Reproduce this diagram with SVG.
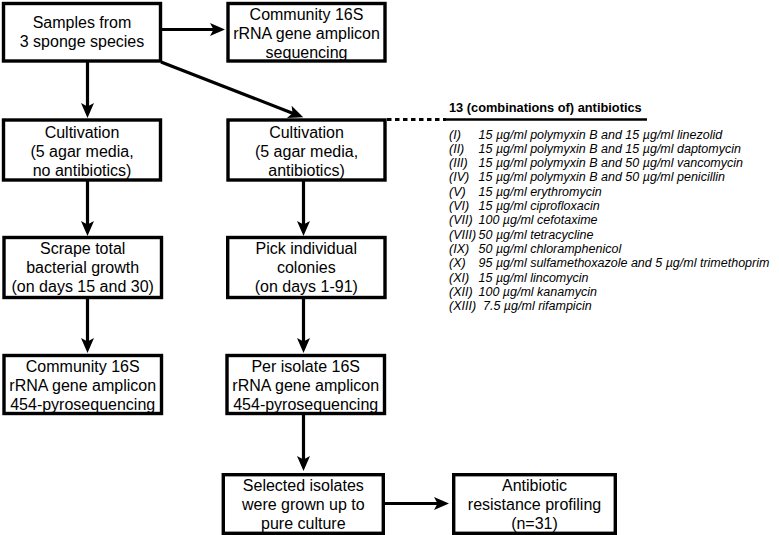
<svg xmlns="http://www.w3.org/2000/svg" width="779" height="535" viewBox="0 0 779 535">
<defs>
<marker id="arr" markerUnits="userSpaceOnUse" viewBox="-8 -7 17 14" markerWidth="17" markerHeight="14" refX="0" refY="0" orient="auto">
<path d="M8,0 L-7,-6.5 L-3.5,0 L-7,6.5 Z" fill="#000"/>
</marker>
<style>
.box{fill:#fff;stroke:#000;stroke-width:3.4}
.t{font-family:"Liberation Sans",Arial,sans-serif;font-size:16px;fill:#000;text-anchor:middle}
.c{fill:none;stroke:#000;stroke-width:3.2}
.h{font-family:"Liberation Sans",Arial,sans-serif;font-size:12.8px;font-weight:bold;fill:#000}
.l{font-family:"Liberation Sans",Arial,sans-serif;font-size:12.5px;font-style:italic;fill:#000}
</style>
</defs>
<rect width="779" height="535" fill="#fff"/>
<g id="connectors">
<line class="c" x1="161" y1="29.5" x2="217" y2="29.5" marker-end="url(#arr)"/>
<line class="c" x1="87.5" y1="61" x2="87.5" y2="110" marker-end="url(#arr)"/>
<line class="c" x1="161" y1="62" x2="295.8" y2="114.4" marker-end="url(#arr)"/>
<line class="c" x1="87.5" y1="180" x2="87.5" y2="228" marker-end="url(#arr)"/>
<line class="c" x1="303.5" y1="180" x2="303.5" y2="228" marker-end="url(#arr)"/>
<line class="c" x1="87.5" y1="297.5" x2="87.5" y2="345" marker-end="url(#arr)"/>
<line class="c" x1="303.5" y1="297.5" x2="303.5" y2="345" marker-end="url(#arr)"/>
<line class="c" x1="303.5" y1="413.5" x2="303.5" y2="463" marker-end="url(#arr)"/>
<line class="c" x1="384" y1="503.5" x2="441" y2="503.5" marker-end="url(#arr)"/>
<line class="c" x1="387" y1="119.5" x2="446" y2="119.5" stroke-dasharray="4.5 3.5"/>
<line class="c" x1="446" y1="119.5" x2="647" y2="119.5" style="stroke-width:2.6"/>
</g>
<g id="n1"><rect class="box" x="3.5" y="3.5" width="157" height="57.5"/>
<text class="t" x="82" y="28">Samples from</text><text class="t" x="82" y="47">3 sponge species</text></g>
<g id="n2"><rect class="box" x="228" y="3.5" width="157" height="57.5"/>
<text class="t" x="306.5" y="20">Community 16S</text><text class="t" x="306.5" y="39">rRNA gene amplicon</text><text class="t" x="306.5" y="58">sequencing</text></g>
<g id="n3"><rect class="box" x="3.5" y="120" width="157" height="60"/>
<text class="t" x="82" y="137.5">Cultivation</text><text class="t" x="82" y="156.5">(5 agar media,</text><text class="t" x="82" y="175.5">no antibiotics)</text></g>
<g id="n4"><rect class="box" x="228" y="120" width="157" height="60"/>
<text class="t" x="306.5" y="137.5">Cultivation</text><text class="t" x="306.5" y="156.5">(5 agar media,</text><text class="t" x="306.5" y="175.5">antibiotics)</text></g>
<g id="n5"><rect class="box" x="4" y="237.5" width="157.5" height="60"/>
<text class="t" x="82.7" y="254">Scrape total</text><text class="t" x="82.7" y="273">bacterial growth</text><text class="t" x="82.7" y="292.3">(on days 15 and 30)</text></g>
<g id="n6"><rect class="box" x="227.7" y="237.5" width="157.3" height="60"/>
<text class="t" x="306.3" y="254">Pick individual</text><text class="t" x="306.3" y="273">colonies</text><text class="t" x="306.3" y="292.3">(on days 1-91)</text></g>
<g id="n7"><rect class="box" x="4" y="355.5" width="157.5" height="58"/>
<text class="t" x="82.7" y="371.5">Community 16S</text><text class="t" x="82.7" y="390.5">rRNA gene amplicon</text><text class="t" x="82.7" y="409.5">454-pyrosequencing</text></g>
<g id="n8"><rect class="box" x="227" y="355.5" width="157.5" height="58"/>
<text class="t" x="305.7" y="371.5">Per isolate 16S</text><text class="t" x="305.7" y="390.5">rRNA gene amplicon</text><text class="t" x="305.7" y="409.5">454-pyrosequencing</text></g>
<g id="n9"><rect class="box" x="223.3" y="474.7" width="160" height="58.6"/>
<text class="t" x="303.3" y="491">Selected isolates</text><text class="t" x="303.3" y="510">were grown up to</text><text class="t" x="303.3" y="529">pure culture</text></g>
<g id="n10"><rect class="box" x="453.7" y="474.7" width="161.6" height="58.6"/>
<text class="t" x="534.5" y="491">Antibiotic</text><text class="t" x="534.5" y="510">resistance profiling</text><text class="t" x="534.5" y="529">(n=31)</text></g>
<g id="antibiotics">
<text class="h" x="449" y="112">13 (combinations of) antibiotics</text>
<text class="l" x="449" y="138.5">(I)</text><text class="l" x="478.5" y="138.5">15 µg/ml polymyxin B and 15 µg/ml linezolid</text>
<text class="l" x="449" y="152.8">(II)</text><text class="l" x="478.5" y="152.8">15 µg/ml polymyxin B and 15 µg/ml daptomycin</text>
<text class="l" x="449" y="167.1">(III)</text><text class="l" x="478.5" y="167.1">15 µg/ml polymyxin B and 50 µg/ml vancomycin</text>
<text class="l" x="449" y="181.4">(IV)</text><text class="l" x="478.5" y="181.4">15 µg/ml polymyxin B and 50 µg/ml penicillin</text>
<text class="l" x="449" y="195.7">(V)</text><text class="l" x="478.5" y="195.7">15 µg/ml erythromycin</text>
<text class="l" x="449" y="210">(VI)</text><text class="l" x="478.5" y="210">15 µg/ml ciprofloxacin</text>
<text class="l" x="449" y="224.3">(VII)</text><text class="l" x="478.5" y="224.3">100 µg/ml cefotaxime</text>
<text class="l" x="449" y="238.6">(VIII)</text><text class="l" x="478.5" y="238.6">50 µg/ml tetracycline</text>
<text class="l" x="449" y="252.9">(IX)</text><text class="l" x="478.5" y="252.9">50 µg/ml chloramphenicol</text>
<text class="l" x="449" y="267.2">(X)</text><text class="l" x="478.5" y="267.2">95 µg/ml sulfamethoxazole and 5 µg/ml trimethoprim</text>
<text class="l" x="449" y="281.5">(XI)</text><text class="l" x="478.5" y="281.5">15 µg/ml lincomycin</text>
<text class="l" x="449" y="295.8">(XII)</text><text class="l" x="478.5" y="295.8">100 µg/ml kanamycin</text>
<text class="l" x="449" y="310.1">(XIII)</text><text class="l" x="483" y="310.1">7.5 µg/ml rifampicin</text>
</g>
</svg>
